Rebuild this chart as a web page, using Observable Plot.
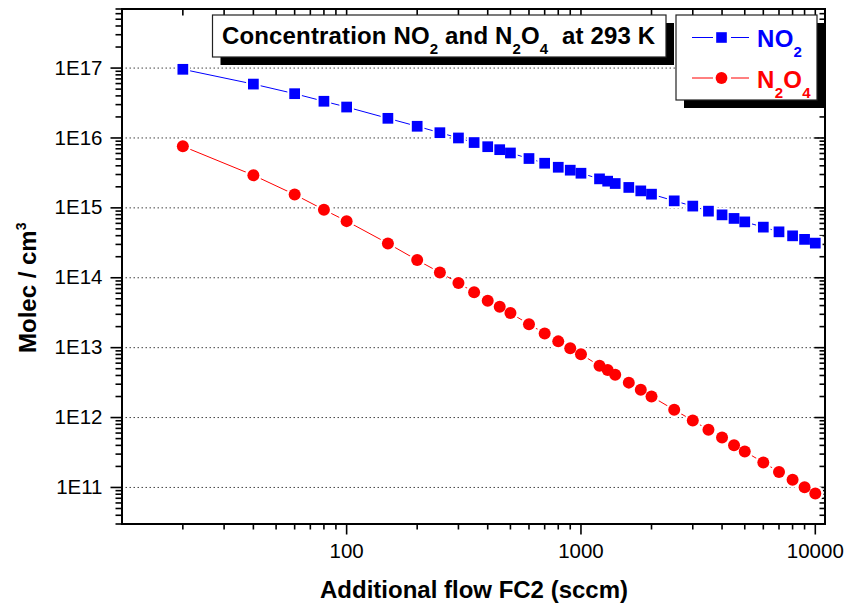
<!DOCTYPE html>
<html>
<head>
<meta charset="utf-8">
<script src="https://cdn.jsdelivr.net/npm/d3@7"></script>
<script src="https://cdn.jsdelivr.net/npm/@observablehq/plot@0.6"></script>
<style>
  html, body { margin: 0; padding: 0; background: #fff; }
  #chart { position: relative; width: 846px; height: 607px; }
  #chart svg { position: absolute; left: 0; top: 0; }
</style>
</head>
<body>
<div id="chart"></div>
<script>
// Additional flow through FC2 (sccm)
const flow = [20, 40, 60, 80, 100, 150, 200, 250, 300, 350, 400, 450, 500, 600, 700, 800, 900,
  1000, 1200, 1300, 1400, 1600, 1800, 2000, 2500, 3000, 3500, 4000, 4500, 5000, 6000, 7000, 8000, 9000, 10000];

// NO2 concentration (molec / cm3)
const no2 = [9.6e16, 5.9e16, 4.3e16, 3.35e16, 2.77e16, 1.91e16, 1.47e16, 1.19e16, 1.0e16, 8.6e15, 7.5e15,
  6.8e15, 6.1e15, 5.08e15, 4.35e15, 3.81e15, 3.46e15, 3.13e15, 2.6e15, 2.41e15, 2.23e15, 1.96e15, 1.75e15,
  1.57e15, 1.26e15, 1.06e15, 8.97e14, 7.94e14, 7.06e14, 6.3e14, 5.3e14, 4.54e14, 3.98e14, 3.54e14, 3.13e14];

// N2O4 concentration (molec / cm3)
const n2o4 = [7.6e15, 2.93e15, 1.55e15, 9.4e14, 6.46e14, 3.1e14, 1.79e14, 1.19e14, 8.4e13, 6.2e13, 4.7e13,
  3.85e13, 3.13e13, 2.16e13, 1.6e13, 1.23e13, 9.8e12, 8.05e12, 5.5e12, 4.8e12, 4.1e12, 3.16e12, 2.49e12,
  2.0e12, 1.29e12, 9.06e11, 6.67e11, 5.18e11, 4.03e11, 3.27e11, 2.28e11, 1.67e11, 1.29e11, 1.01e11, 8.2e10];

// Axis ticks
const xMajor = [100, 1000, 10000];
const xMinor = [20, 30, 40, 50, 60, 70, 80, 90, 200, 300, 400, 500, 600, 700, 800, 900,
  2000, 3000, 4000, 5000, 6000, 7000, 8000, 9000];
const yMajor = [1e11, 1e12, 1e13, 1e14, 1e15, 1e16, 1e17];
const yMinor = [3e10, 4e10, 5e10, 6e10, 7e10, 8e10, 9e10]
  .concat(...[11, 12, 13, 14, 15, 16, 17].map(e => [2, 3, 4, 5, 6, 7, 8, 9].map(k => k * 10 ** e)))
  .filter(v => v <= 7e17);

const blue = "#0000ff";
const red = "#ff0000";
const font = '"Liberation Sans", Arial, Helvetica, sans-serif';

const rowsNO2 = flow.map((f, i) => ({flow: f, conc: no2[i]}));
const rowsN2O4 = flow.map((f, i) => ({flow: f, conc: n2o4[i]}));

const W = 846, H = 607;
const tickW = 1.6;
const blank = () => "";

const plot = Plot.plot({
  width: W,
  height: H,
  marginLeft: 121.5,
  marginRight: 21.5,
  marginTop: 8.5,
  marginBottom: 83.5,
  style: {fontFamily: font, fontSize: "20.5px", color: "#000", background: "#fff", overflow: "visible"},
  x: {type: "log", domain: [11, 11000], label: null},
  y: {type: "log", domain: [3e10, 7e17], label: null},
  marks: [
    Plot.gridY(yMajor, {stroke: "#444", strokeOpacity: 1, strokeWidth: 1, strokeDasharray: "1.5,2.5"}),

    // left axis (outward ticks, labels)
    Plot.axisY({ticks: yMinor, anchor: "left", tickSize: 6, tickFormat: blank, strokeWidth: tickW, label: null}),
    Plot.axisY({ticks: yMajor, anchor: "left", tickSize: 11, tickPadding: 8.5, strokeWidth: tickW, label: null,
      tickFormat: d => "1E" + Math.round(Math.log10(d))}),
    // right mirror axis (inward ticks)
    Plot.axisY({ticks: yMinor, anchor: "right", tickSize: -6, tickFormat: blank, strokeWidth: tickW, label: null}),
    Plot.axisY({ticks: yMajor, anchor: "right", tickSize: -11, tickFormat: blank, strokeWidth: tickW, label: null}),
    // bottom axis (outward ticks, labels)
    Plot.axisX({ticks: xMinor, anchor: "bottom", tickSize: 6, tickFormat: blank, strokeWidth: tickW, label: null}),
    Plot.axisX({ticks: xMajor, anchor: "bottom", tickSize: 11, tickPadding: 8, strokeWidth: tickW, label: null,
      tickFormat: d => String(d)}),
    // top mirror axis (inward ticks)
    Plot.axisX({ticks: xMinor, anchor: "top", tickSize: -6, tickFormat: blank, strokeWidth: tickW, label: null}),
    Plot.axisX({ticks: xMajor, anchor: "top", tickSize: -11, tickFormat: blank, strokeWidth: tickW, label: null}),

    // series lines
    Plot.line(rowsNO2, {x: "flow", y: "conc", stroke: blue, strokeWidth: 1}),
    Plot.line(rowsN2O4, {x: "flow", y: "conc", stroke: red, strokeWidth: 1}),
    // white halos leave a small gap in the line around each marker
    Plot.dot(rowsNO2, {x: "flow", y: "conc", symbol: "square", r: 8.2, fill: "#fff"}),
    Plot.dot(rowsN2O4, {x: "flow", y: "conc", symbol: "circle", r: 8.3, fill: "#fff"}),
    // markers
    Plot.dot(rowsNO2, {x: "flow", y: "conc", symbol: "square", r: 6.05, fill: blue}),
    Plot.dot(rowsN2O4, {x: "flow", y: "conc", symbol: "circle", r: 6.0, fill: red}),

    Plot.frame({stroke: "#000", strokeWidth: 2})
  ]
});

const host = document.getElementById("chart");
host.appendChild(plot);

// Annotation layer: axis titles, title box and legend
const ann = d3.select(host).append("svg")
  .attr("width", W).attr("height", H)
  .attr("font-family", font)
  .style("pointer-events", "none");

// Axis titles
ann.append("text")
  .attr("x", 474).attr("y", 598)
  .attr("text-anchor", "middle")
  .attr("font-size", 24).attr("font-weight", "bold")
  .text("Additional flow FC2 (sccm)");

const yTitle = ann.append("text")
  .attr("transform", "translate(36,353) rotate(-90)")
  .attr("text-anchor", "start")
  .attr("font-size", 24).attr("font-weight", "bold");
yTitle.append("tspan").text("Molec / cm");
yTitle.append("tspan").attr("font-size", 14).attr("dy", -10).text("3");

// Helper: text with chemical subscripts, given as [text, isSubscript] pieces
function chemText(g, x, y, pieces, fill, spacing = 0) {
  const t = g.append("text")
    .attr("x", x).attr("y", y)
    .attr("font-size", 24).attr("font-weight", "bold")
    .attr("letter-spacing", spacing)
    .attr("fill", fill)
    .style("white-space", "pre");
  let shifted = false;
  for (const [s, sub] of pieces) {
    const ts = t.append("tspan").text(s);
    if (sub && !shifted) { ts.attr("font-size", 15).attr("dy", 10); shifted = true; }
    else if (sub) { ts.attr("font-size", 15); }
    else if (shifted) { ts.attr("dy", -10); shifted = false; }
  }
  return t;
}

// Title box with drop shadow
const tb = {x: 212.5, y: 15, w: 453.5, h: 42};
ann.append("rect").attr("x", tb.x + 8).attr("y", tb.y + 8).attr("width", tb.w).attr("height", tb.h).attr("fill", "#000");
ann.append("rect").attr("x", tb.x).attr("y", tb.y).attr("width", tb.w).attr("height", tb.h)
  .attr("fill", "#fff").attr("stroke", "#222").attr("stroke-width", 1.2);
chemText(ann, 222, 43.5, [
  ["Concentration NO", false], ["2", true], [" and N", false], ["2", true],
  ["O", false], ["4", true], ["\u00a0 at 293 K", false]
], "#000", 0.15);

// Legend box with drop shadow
const lb = {x: 676, y: 15, w: 141, h: 85};
ann.append("rect").attr("x", lb.x + 8).attr("y", lb.y + 8).attr("width", lb.w).attr("height", lb.h).attr("fill", "#000");
ann.append("rect").attr("x", lb.x).attr("y", lb.y).attr("width", lb.w).attr("height", lb.h)
  .attr("fill", "#fff").attr("stroke", "#222").attr("stroke-width", 1.2);

const legendRows = [
  {cy: 37.5, color: blue, shape: "square", pieces: [["NO", false], ["2", true]]},
  {cy: 78, color: red, shape: "circle", pieces: [["N", false], ["2", true], ["O", false], ["4", true]]}
];
for (const row of legendRows) {
  ann.append("line").attr("x1", 692).attr("x2", 713).attr("y1", row.cy).attr("y2", row.cy)
    .attr("stroke", row.color).attr("stroke-width", 1);
  ann.append("line").attr("x1", 731).attr("x2", 749).attr("y1", row.cy).attr("y2", row.cy)
    .attr("stroke", row.color).attr("stroke-width", 1);
  if (row.shape === "square") {
    ann.append("rect").attr("x", 721.5 - 5.3).attr("y", row.cy - 5.3).attr("width", 10.6).attr("height", 10.6)
      .attr("fill", row.color);
  } else {
    ann.append("circle").attr("cx", 721.5).attr("cy", row.cy).attr("r", 5.9).attr("fill", row.color);
  }
  chemText(ann, 757, row.cy + 9.5, row.pieces, row.color, 0.3);
}
</script>
</body>
</html>
